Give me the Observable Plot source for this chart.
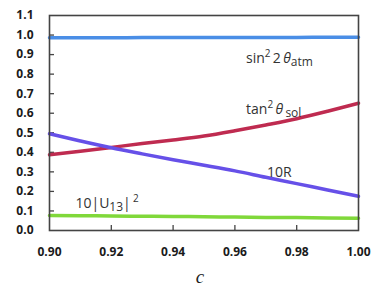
<!DOCTYPE html>
<html><head><meta charset="utf-8">
<script src="https://cdn.jsdelivr.net/npm/d3@7"></script>
<script src="https://cdn.jsdelivr.net/npm/@observablehq/plot@0.6"></script>
<style>body{margin:0;background:#fff}</style>
</head><body><div id="chart"></div>
<script>
// ---- data ----
const cValues   = [0.90, 0.91, 0.92, 0.93, 0.94, 0.95, 0.96, 0.97, 0.98, 0.99, 1.00];
const sin22Atm  = [0.986, 0.986, 0.986, 0.987, 0.987, 0.987, 0.988, 0.988, 0.988, 0.989, 0.989];
const tan2Sol   = [0.387, 0.405, 0.425, 0.445, 0.463, 0.483, 0.510, 0.540, 0.572, 0.610, 0.651];
const tenR      = [0.495, 0.458, 0.423, 0.392, 0.362, 0.334, 0.305, 0.272, 0.240, 0.207, 0.175];
const tenU13sq  = [0.077, 0.076, 0.074, 0.073, 0.072, 0.070, 0.069, 0.067, 0.066, 0.064, 0.063];

const seriesNames  = ["sin22atm", "tan2sol", "10R", "10U13"];
const seriesColors = ["#4a8ee6", "#bf2b50", "#6650e8", "#80d83a"];

const xTicks = [0.90, 0.92, 0.94, 0.96, 0.98, 1.00];
const yTickLabels = [0.0, 0.1, 0.2, 0.3, 0.4, 0.5, 0.6, 0.7, 0.8, 0.9, 1.0, 1.1];
const yTickMarks  = [0.1, 0.2, 0.3, 0.4, 0.5, 0.6, 0.7, 0.8, 0.9, 1.0];
const xTickMarks  = [0.92, 0.94, 0.96, 0.98];

// annotation labels (markup: ^{..} superscript, _{..} subscript)
const labelText = ["sin^{2}\u20092\u2009θ_{atm}", "tan^{2}\u2009θ\u2009_{sol}", "10R", "10|U_{13}|\u2009^{2}"];
const labelX    = [0.9636, 0.9636, 0.9704, 0.9084];
const labelY    = [0.881, 0.620, 0.296, 0.136];
const xLabel = "c";

// ---- build tables ----
const seriesValues = [sin22Atm, tan2Sol, tenR, tenU13sq];
const rows = seriesNames.flatMap((s, k) => cValues.map((c, i) => ({series: s, c, v: seriesValues[k][i]})));
const labels = labelText.map((t, i) => ({t, x: labelX[i], y: labelY[i]}));

const plot = Plot.plot({
  width: 385,
  height: 288,
  marginLeft: 49,
  marginRight: 27,
  marginTop: 15,
  marginBottom: 58,
  style: {fontFamily: "'Open Sans', sans-serif", background: "#fff"},
  x: {domain: [0.90, 1.00]},
  y: {domain: [0, 1.1]},
  color: {domain: seriesNames, range: seriesColors},
  marks: [
    Plot.axisY({ticks: yTickLabels, tickSize: 0, tickPadding: 16, tickFormat: d3.format(".1f"),
                label: null, fontSize: 12, fontWeight: 700, fill: "#1a1a1a"}),
    // inward tick marks (shifted inside the frame)
    Plot.axisY({ticks: yTickMarks, tickSize: 5, dx: 5, text: null, label: null, stroke: "#444", strokeWidth: 1.3}),
    Plot.axisX({ticks: xTicks, tickSize: 0, tickPadding: 17, tickFormat: d3.format(".2f"),
                label: null, fontSize: 12, fontWeight: 700, fill: "#1a1a1a"}),
    Plot.axisX({ticks: xTickMarks, tickSize: 5, dy: -5, text: null, label: null, stroke: "#444", strokeWidth: 1.3}),
    Plot.line(rows, {x: "c", y: "v", z: "series", stroke: "series", strokeWidth: 3.5, curve: "monotone-x"}),
    Plot.frame({stroke: "#444", strokeWidth: 1.6}),
    Plot.text(labels, {x: "x", y: "y", text: "t", textAnchor: "start", fontSize: 14, fill: "#333",
                       fontFamily: "'Open Sans', sans-serif", className: "richlbl"}),
    Plot.text([xLabel], {text: d => d, frameAnchor: "bottom", dy: 52, dx: -4, fontSize: 19,
                         fontStyle: "italic", fontFamily: "'Liberation Serif', 'DejaVu Serif', serif", fill: "#222"})
  ]
});

// rich text: convert ^{..} and _{..} markup into tspans
plot.querySelectorAll(".richlbl text").forEach(el => {
  const s = el.textContent;
  el.textContent = "";
  const re = /(\^|_)\{([^}]*)\}/g;
  let last = 0, m, shift = 0;
  const add = (txt, kind) => {
    if (!txt) return;
    const ts = document.createElementNS("http://www.w3.org/2000/svg", "tspan");
    ts.textContent = txt;
    let target = kind === "sup" ? -6 : kind === "sub" ? 3 : 0;
    if (target !== shift) { ts.setAttribute("dy", target - shift); shift = target; }
    if (kind === "sup") ts.setAttribute("font-size", 10);
    if (kind === "sub") ts.setAttribute("font-size", 12);
    if (txt.includes("θ")) ts.setAttribute("font-style", "italic");
    el.appendChild(ts);
  };
  while ((m = re.exec(s))) {
    const before = s.slice(last, m.index);
    before.split(/(θ)/).forEach(p => add(p, "normal"));
    add(m[2], m[1] === "^" ? "sup" : "sub");
    last = re.lastIndex;
  }
  s.slice(last).split(/(θ)/).forEach(p => add(p, "normal"));
});

document.getElementById("chart").appendChild(plot);
</script>
</body></html>
